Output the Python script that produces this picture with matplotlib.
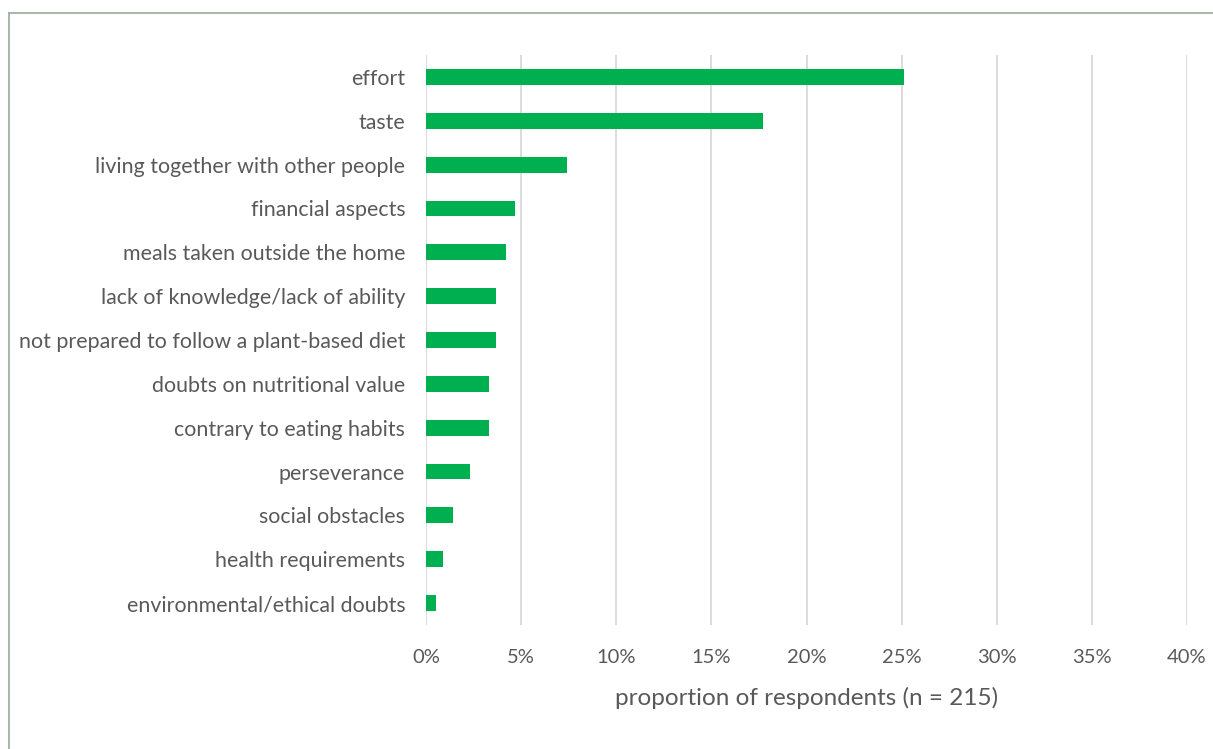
import matplotlib.pyplot as plt
from matplotlib.lines import Line2D
from matplotlib.ticker import FuncFormatter

plt.rcParams['font.family'] = ['Lato', 'DejaVu Sans']

# reasons given, share of respondents in %
reasons = [
    'effort',
    'taste',
    'living together with other people',
    'financial aspects',
    'meals taken outside the home',
    'lack of knowledge/lack of ability',
    'not prepared to follow a plant-based diet',
    'doubts on nutritional value',
    'contrary to eating habits',
    'perseverance',
    'social obstacles',
    'health requirements',
    'environmental/ethical doubts',
]
shares = [25.1, 17.7, 7.4, 4.7, 4.2, 3.7, 3.7, 3.3, 3.3, 2.3, 1.4, 0.9, 0.5]
x_ticks = [0, 5, 10, 15, 20, 25, 30, 35, 40]

text_color = '#595959'
bar_color = '#00b050'
grid_color = '#d9d9d9'

fig = plt.figure(figsize=(12.13, 7.49), dpi=100)
ax = fig.add_axes([426 / 1213, 1 - 625 / 749, (1187 - 426) / 1213, (625 - 55) / 749])

ypos = list(range(len(reasons)))
ax.barh(ypos, shares, height=0.36, color=bar_color, zorder=3)

ax.set_xlim(0, 40)
ax.set_ylim(len(reasons) - 0.5, -0.5)
ax.set_xticks(x_ticks)
ax.xaxis.set_major_formatter(FuncFormatter(lambda v, p: f'{v:.0f}%'))
ax.set_yticks(ypos)
ax.set_yticklabels(reasons)

ax.grid(axis='x', color=grid_color, linewidth=1.3, zorder=0)
ax.grid(axis='y', visible=False)
for s in ax.spines.values():
    s.set_visible(False)
ax.tick_params(axis='both', length=0, colors=text_color)
ax.tick_params(axis='y', pad=15, labelsize=15.4)
ax.tick_params(axis='x', pad=17, labelsize=14.5)

ax.set_xlabel('proportion of respondents (n = 215)', fontsize=17.5, color=text_color, labelpad=15)

# frame lines round the chart area
fig.add_artist(Line2D([8.5 / 1213, 8.5 / 1213], [0, 1 - 12.5 / 749], transform=fig.transFigure,
                      color='#9db2a3', linewidth=1.3))
fig.add_artist(Line2D([8.5 / 1213, 1], [1 - 12.5 / 749, 1 - 12.5 / 749], transform=fig.transFigure,
                      color='#9db2a3', linewidth=1.3))

fig.savefig('out.png', dpi=100)
